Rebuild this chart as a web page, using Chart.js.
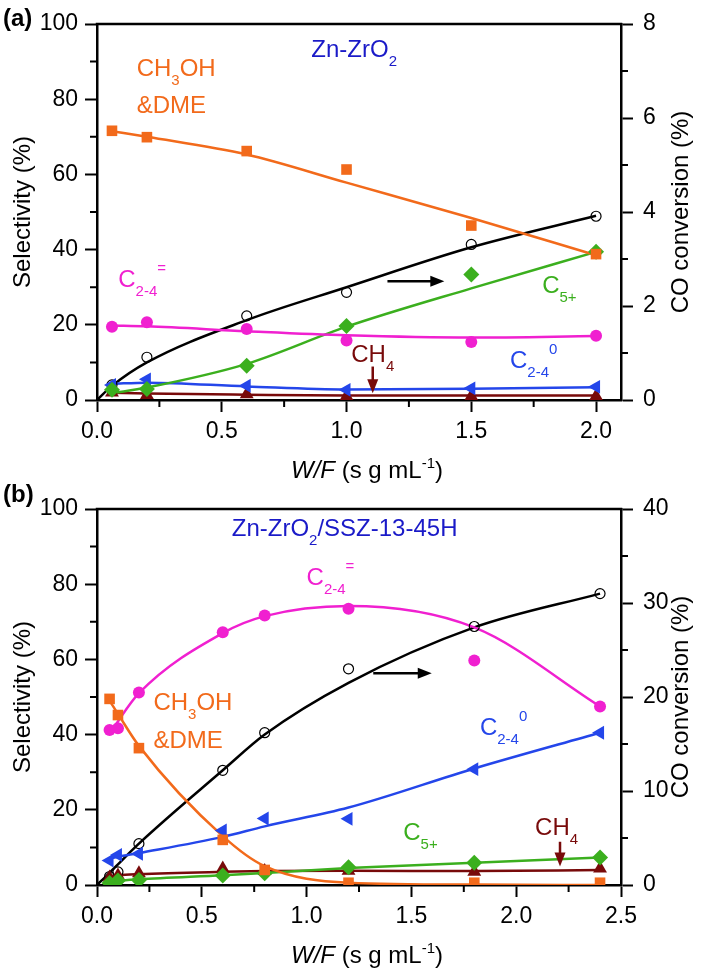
<!DOCTYPE html>
<html>
<head>
<meta charset="utf-8">
<script src="https://cdn.jsdelivr.net/npm/chart.js@4"></script>
<style>
  body { margin: 0; background: #fff; width: 702px; height: 970px; position: relative; overflow: hidden; }
  canvas { position: absolute; left: 0; }
  #chartA { top: 0; }
  #chartB { top: 470px; }
</style>
</head>
<body>
<canvas id="chartA" width="702" height="500"></canvas>
<canvas id="chartB" width="702" height="500"></canvas>
<script>
// ---- panel (a): Zn-ZrO2 ----
const xA = [0.06, 0.2, 0.6, 1.0, 1.5, 2.0];
const methA = [71.6, 69.9, 66.2, 61.3, 46.4, 38.8];
const methFitA = [71.5, 70.0, 65.3, 57.8, 48.4, 38.5];
const oleA = [19.5, 20.7, 18.9, 15.8, 15.4, 17.1];
const oleFitA = [19.8, 19.6, 18.3, 17.2, 16.6, 17.0];
const c5A = [2.7, 2.9, 9.1, 19.7, 33.4, 39.4];
const c5FitA = [1.8, 3.3, 9.6, 19.5, 29.7, 39.4];
const parA = [4.0, 5.5, 3.8, 2.7, 3.1, 3.5];
const parFitA = [4.3, 4.6, 3.6, 2.8, 3.0, 3.4];
const ch4A = [2.0, 1.3, 1.5, 1.0, 1.0, 1.0];
const ch4FitA = [1.9, 1.7, 1.4, 1.2, 1.2, 1.2];
const coA = [0.32, 0.91, 1.79, 2.29, 3.31, 3.91];
const coFitXA = [0, 0.06, 0.2, 0.6, 1.0, 1.5, 2.0];
const coFitA = [0, 0.3, 0.8, 1.7, 2.4, 3.25, 3.92];
const xTicksA = [0, 0.5, 1.0, 1.5, 2.0];
const coTicksA = [0, 2, 4, 6, 8];

// ---- panel (b): Zn-ZrO2/SSZ-13-45H ----
const xB = [0.06, 0.1, 0.2, 0.6, 0.8, 1.2, 1.8, 2.4];
const oleB = [41.2, 41.7, 51.2, 67.2, 71.7, 73.5, 59.7, 47.5];
const oleFitB = [40.0, 43.5, 51.0, 67.0, 71.5, 74.2, 68.5, 47.5];
const methB = [49.5, 45.2, 36.4, 12.0, 4.0, 0.6, 0.6, 0.6];
const methFitB = [49.0, 45.5, 37.0, 13.0, 5.0, 0.6, 0.1, 0.0];
const parB = [6.5, 8.0, 8.3, 14.5, 17.7, 17.6, 30.8, 40.5];
const parFitB = [7.0, 7.5, 8.5, 12.8, 15.6, 20.6, 31.0, 40.5];
const ch4B = [2.0, 2.5, 3.1, 4.4, 3.7, 3.8, 3.5, 4.4];
const ch4FitB = [2.3, 2.6, 2.9, 3.5, 3.7, 3.8, 3.7, 4.0];
const c5B = [0.5, 1.2, 1.3, 2.5, 3.1, 4.7, 5.9, 7.3];
const c5FitB = [0.8, 1.1, 1.5, 2.6, 3.2, 4.5, 5.9, 7.3];
const coB = [0.9, 1.4, 4.4, 12.2, 16.2, 23.0, 27.5, 31.0];
const coFitXB = [0, 0.06, 0.1, 0.2, 0.6, 0.8, 1.2, 1.8, 2.4];
const coFitB = [0, 1.3, 2.2, 4.4, 12.2, 16.0, 21.5, 27.4, 31.0];
const xTicksB = [0, 0.5, 1.0, 1.5, 2.0, 2.5];
const coTicksB = [0, 10, 20, 30, 40];

const selTicks = [0, 20, 40, 60, 80, 100];

const FONT = "'Liberation Sans', Arial, sans-serif";
const C = {
    meth: "#F26A1B",
    ole: "#F020D0",
    c5: "#3BAF1E",
    par: "#2446EA",
    ch4: "#780A0A",
    co: "#000000",
    name: "#1A1AC8",
};

function pts(xs, ys) {
    return xs.map((x, i) => ({ x: x, y: ys[i] }));
}

// markers only
function marks(xs, ys, color, style, r, extra) {
    return Object.assign({
        data: pts(xs, ys),
        showLine: false,
        pointStyle: style,
        pointRadius: r,
        backgroundColor: color,
        borderColor: color,
        borderWidth: 0,
        yAxisID: "y",
        order: 0,
    }, extra || {});
}

// smooth fit curve
function fit(xs, ys, color, axis) {
    return {
        data: pts(xs, ys),
        showLine: true,
        pointRadius: 0,
        borderColor: color,
        borderWidth: 2.5,
        cubicInterpolationMode: "monotone",
        fill: false,
        yAxisID: axis || "y",
        order: 1,
    };
}

// draw text with sub/superscripts, parts = [[text, kind]]
function rich(ctx, parts, x, y, color, draw) {
    let cx = x;
    ctx.textBaseline = "alphabetic";
    ctx.textAlign = "left";
    ctx.fillStyle = color;
    parts.forEach(([t, k]) => {
        let size = 24, dy = 0, st = "";
        if (k === "b") { size = 15; dy = 9; }
        if (k === "p") { size = 15; dy = -14; }
        if (k === "s") { size = 15; dy = -10; }
        if (k === "i") st = "italic ";
        ctx.font = st + size + "px " + FONT;
        if (draw !== false) ctx.fillText(t, cx, y + dy);
        cx += ctx.measureText(t).width;
    });
    return cx - x;
}

function arrow(ctx, x1, y1, x2, y2, color) {
    const a = Math.atan2(y2 - y1, x2 - x1);
    const hl = 14, hw = 5.5;
    ctx.strokeStyle = color;
    ctx.fillStyle = color;
    ctx.lineWidth = 2.5;
    ctx.beginPath();
    ctx.moveTo(x1, y1);
    ctx.lineTo(x2 - hl * 0.8 * Math.cos(a), y2 - hl * 0.8 * Math.sin(a));
    ctx.stroke();
    ctx.beginPath();
    ctx.moveTo(x2, y2);
    ctx.lineTo(x2 - hl * Math.cos(a) + hw * Math.sin(a), y2 - hl * Math.sin(a) - hw * Math.cos(a));
    ctx.lineTo(x2 - hl * Math.cos(a) - hw * Math.sin(a), y2 - hl * Math.sin(a) + hw * Math.cos(a));
    ctx.closePath();
    ctx.fill();
}

function midpoints(arr) {
    const out = [];
    for (let i = 0; i < arr.length - 1; i++) out.push((arr[i] + arr[i + 1]) / 2);
    return out;
}

// titles, labels, arrows, minor ticks, top frame
function decor(cfg) {
    return {
        id: "decor",
        afterDraw(chart) {
            const ctx = chart.ctx;
            const a = chart.chartArea;
            const sx = chart.scales.x, sy = chart.scales.y, sy1 = chart.scales.y1;
            ctx.save();
            // top frame
            ctx.strokeStyle = "#000";
            ctx.lineWidth = 2.5;
            ctx.beginPath();
            ctx.moveTo(a.left - 1.25, a.top);
            ctx.lineTo(a.right + 1.25, a.top);
            ctx.stroke();
            // minor ticks
            ctx.lineWidth = 2;
            ctx.beginPath();
            midpoints(cfg.xTicks).forEach(v => {
                const p = sx.getPixelForValue(v);
                ctx.moveTo(p, a.bottom); ctx.lineTo(p, a.bottom + 7);
            });
            midpoints(selTicks).forEach(v => {
                const p = sy.getPixelForValue(v);
                ctx.moveTo(a.left - 7, p); ctx.lineTo(a.left, p);
            });
            midpoints(cfg.coTicks).forEach(v => {
                const p = sy1.getPixelForValue(v);
                ctx.moveTo(a.right, p); ctx.lineTo(a.right + 7, p);
            });
            ctx.stroke();

            // axis titles
            const xt = [["W/F", "i"], [" (s g mL", "n"], ["-1", "s"], [")", "n"]];
            const w = rich(ctx, xt, 0, 0, "#000", false);
            rich(ctx, xt, (a.left + a.right) / 2 + 8 - w / 2, a.bottom + 78, "#000");
            ctx.font = "24px " + FONT;
            ctx.fillStyle = "#000";
            ctx.textAlign = "center";
            ctx.textBaseline = "middle";
            const ym = (a.top + a.bottom) / 2;
            ctx.save();
            ctx.translate(23, ym);
            ctx.rotate(-Math.PI / 2);
            ctx.fillText("Selectivity (%)", 0, 0);
            ctx.restore();
            ctx.save();
            ctx.translate(681, ym);
            ctx.rotate(-Math.PI / 2);
            ctx.fillText("CO conversion (%)", 0, 0);
            ctx.restore();

            // panel letter
            ctx.font = "bold 24px " + FONT;
            ctx.textAlign = "left";
            ctx.textBaseline = "alphabetic";
            ctx.fillText(cfg.panel, 3, a.top - cfg.panelUp);

            // labels
            cfg.notes.forEach(n => {
                rich(ctx, n.parts, sx.getPixelForValue(n.x), sy.getPixelForValue(n.y), n.color);
            });
            // arrows
            cfg.arrows.forEach(r => {
                arrow(ctx, sx.getPixelForValue(r.x1), sy.getPixelForValue(r.y1),
                    sx.getPixelForValue(r.x2), sy.getPixelForValue(r.y2), r.color);
            });
            ctx.restore();
        },
    };
}

function scales(xMax, xTicks, coMax, coTicks, xHeight) {
    const tickFont = { family: FONT, size: 23 };
    const grid = { drawOnChartArea: false, drawTicks: true, tickLength: 12, tickWidth: 2, tickColor: "#000" };
    const border = { display: true, color: "#000", width: 2.5 };
    return {
        x: {
            type: "linear", min: 0, max: xMax, grid: grid, border: border,
            ticks: { font: tickFont, color: "#000", padding: 6, maxRotation: 0, callback: v => v.toFixed(1) },
            afterBuildTicks: s => { s.ticks = xTicks.map(v => ({ value: v })); },
            afterFit: s => { s.height = xHeight; },
        },
        y: {
            position: "left", min: 0, max: 100, grid: grid, border: border,
            ticks: { font: tickFont, color: "#000", padding: 7 },
            afterBuildTicks: s => { s.ticks = selTicks.map(v => ({ value: v })); },
            afterFit: s => { s.width = 97; },
        },
        y1: {
            position: "right", min: 0, max: coMax, grid: grid, border: border,
            ticks: { font: tickFont, color: "#000", padding: 10 },
            afterBuildTicks: s => { s.ticks = coTicks.map(v => ({ value: v })); },
            afterFit: s => { s.width = 81; },
        },
    };
}

function seriesSet(d) {
    return [
        marks(d.x, d.meth, C.meth, "rect", 7.5),
        marks(d.x, d.ole, C.ole, "circle", 6),
        marks(d.x, d.c5, C.c5, "rectRot", 8),
        marks(d.x, d.par, C.par, "triangle", 8, { rotation: -90 }),
        marks(d.x, d.ch4, C.ch4, "triangle", 8),
        marks(d.x, d.co, C.co, "circle", 5, { backgroundColor: "rgba(0,0,0,0)", borderWidth: 1.2, yAxisID: "y1" }),
        fit(d.x, d.methFit, C.meth),
        fit(d.x, d.oleFit, C.ole),
        fit(d.x, d.c5Fit, C.c5),
        fit(d.x, d.parFit, C.par),
        fit(d.x, d.ch4Fit, C.ch4),
        fit(d.coFitX, d.coFit, C.co, "y1"),
    ];
}

function makeChart(id, datasets, sc, padTop, deco) {
    return new Chart(document.getElementById(id).getContext("2d"), {
        type: "scatter",
        data: { datasets: datasets },
        options: {
            responsive: false,
            animation: false,
            layout: { padding: { top: padTop, left: 0, right: 0, bottom: 0 } },
            scales: sc,
            plugins: { legend: { display: false }, tooltip: { enabled: false } },
        },
        plugins: [decor(deco)],
    });
}

makeChart("chartA", seriesSet({
    x: xA, meth: methA, methFit: methFitA, ole: oleA, oleFit: oleFitA,
    c5: c5A, c5Fit: c5FitA, par: parA, parFit: parFitA, ch4: ch4A, ch4Fit: ch4FitA,
    co: coA, coFitX: coFitXA, coFit: coFitA,
}), scales(2.1, xTicksA, 8, coTicksA, 100), 24, {
    panel: "(a)", panelUp: -2, xTicks: xTicksA, coTicks: coTicksA,
    notes: [
        { parts: [["Zn-ZrO", "n"], ["2", "b"]], x: 0.859, y: 91.2, color: C.name },
        { parts: [["CH", "n"], ["3", "b"], ["OH", "n"]], x: 0.159, y: 86.2, color: C.meth },
        { parts: [["&DME", "n"]], x: 0.159, y: 76.3, color: C.meth },
        { parts: [["C", "n"], ["2-4", "b"], ["=", "p"]], x: 0.085, y: 30.1, color: C.ole },
        { parts: [["C", "n"], ["5+", "b"]], x: 1.784, y: 28.5, color: C.c5 },
        { parts: [["C", "n"], ["2-4", "b"], ["0", "p"]], x: 1.655, y: 8.5, color: C.par },
        { parts: [["CH", "n"], ["4", "b"]], x: 1.019, y: 10.2, color: C.ch4 },
    ],
    arrows: [
        { x1: 1.164, y1: 31.6, x2: 1.392, y2: 31.6, color: "#000" },
        { x1: 1.105, y1: 8.9, x2: 1.105, y2: 1.8, color: C.ch4 },
    ],
});

makeChart("chartB", seriesSet({
    x: xB, meth: methB, methFit: methFitB, ole: oleB, oleFit: oleFitB,
    c5: c5B, c5Fit: c5FitB, par: parB, parFit: parFitB, ch4: ch4B, ch4Fit: ch4FitB,
    co: coB, coFitX: coFitXB, coFit: coFitB,
}), scales(2.5, xTicksB, 40, coTicksB, 85), 39, {
    panel: "(b)", panelUp: 7, xTicks: xTicksB, coTicks: coTicksB,
    notes: [
        { parts: [["Zn-ZrO", "n"], ["2", "b"], ["/SSZ-13-45H", "n"]], x: 0.643, y: 92.7, color: C.name },
        { parts: [["C", "n"], ["2-4", "b"], ["=", "p"]], x: 1.0, y: 79.9, color: C.ole },
        { parts: [["CH", "n"], ["3", "b"], ["OH", "n"]], x: 0.269, y: 46.6, color: C.meth },
        { parts: [["&DME", "n"]], x: 0.269, y: 36.4, color: C.meth },
        { parts: [["C", "n"], ["2-4", "b"], ["0", "p"]], x: 1.827, y: 39.9, color: C.par },
        { parts: [["C", "n"], ["5+", "b"]], x: 1.461, y: 12.0, color: C.c5 },
        { parts: [["CH", "n"], ["4", "b"]], x: 2.09, y: 13.3, color: C.ch4 },
    ],
    arrows: [
        { x1: 1.318, y1: 56.3, x2: 1.597, y2: 56.3, color: "#000" },
        { x1: 2.209, y1: 11.5, x2: 2.209, y2: 4.9, color: C.ch4 },
    ],
});
</script>
</body>
</html>
